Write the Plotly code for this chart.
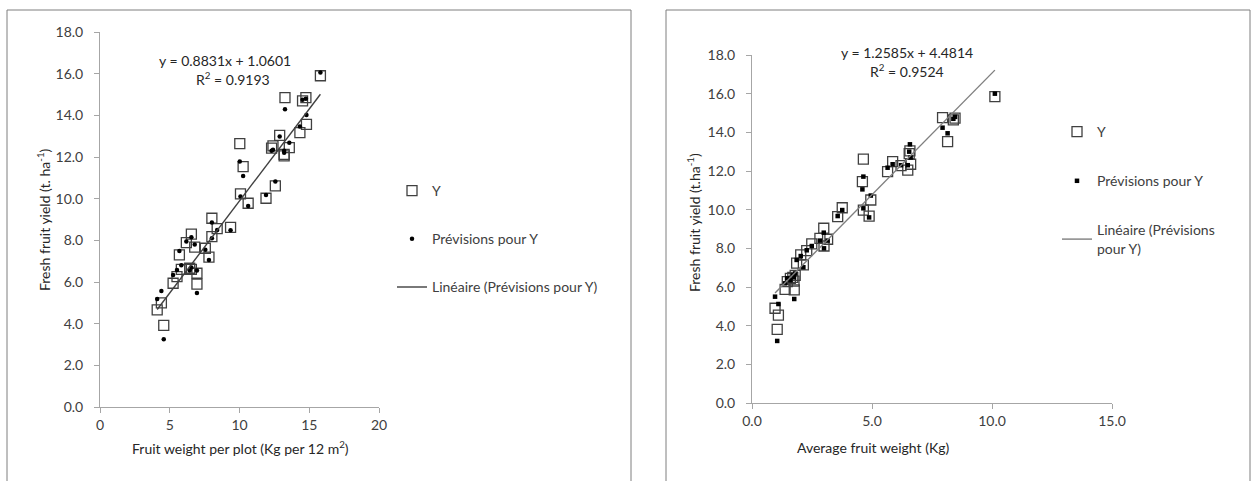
import plotly.graph_objects as go

# ---------------- data (left panel) ----------------
left_x = [4.1, 4.4, 4.57, 5.24, 5.52, 5.69, 5.83, 6.19, 6.43, 6.55, 6.55, 6.79, 6.95, 6.95,
          7.55, 7.81, 8.02, 8.02, 8.4, 9.36, 10.02, 10.07, 10.26, 10.62, 11.9, 12.4, 12.3,
          12.57, 12.88, 13.2, 13.2, 13.26, 13.57, 14.33, 14.52, 14.76, 14.8, 15.8]
left_y = [4.66, 5.0, 3.92, 5.94, 6.26, 7.3, 6.61, 7.89, 6.66, 6.61, 8.3, 7.67, 6.42, 5.9,
          7.62, 7.19, 8.18, 9.06, 8.56, 8.62, 12.64, 10.23, 11.54, 9.78, 10.02, 12.53, 12.43,
          10.61, 13.04, 12.13, 12.05, 14.85, 12.45, 13.17, 14.69, 14.85, 13.57, 15.9]
left_pred = [5.18, 5.57, 3.25, 6.34, 6.58, 7.49, 6.8, 7.95, 6.55, 6.7, 8.15, 7.8, 6.55, 5.47,
             7.55, 7.06, 8.1, 8.86, 8.5, 8.49, 11.78, 10.1, 11.09, 9.65, 10.18, 12.35, 12.3,
             10.82, 12.98, 12.3, 12.2, 14.29, 12.69, 13.46, 14.75, 14.8, 14.02, 16.06]
left_slope, left_intercept, left_r2 = 0.8831, 1.0601, 0.9193

# ---------------- data (right panel) ----------------
right_x = [0.96, 1.1, 1.05, 1.38, 1.47, 1.6, 1.7, 1.76, 1.8, 1.75, 1.86, 2.14, 2.03, 2.28,
           2.49, 2.83, 3.15, 3.0, 2.99, 3.57, 3.76, 4.64, 4.6, 4.64, 4.88, 4.95, 5.65, 5.86,
           6.21, 6.49, 6.58, 6.61, 6.55, 7.94, 8.15, 8.39, 8.46, 10.12]
right_y = [4.9, 4.55, 3.81, 5.88, 6.28, 6.45, 6.5, 5.85, 6.6, 6.3, 7.23, 7.14, 7.66, 7.88,
           8.23, 8.52, 8.47, 8.12, 9.04, 9.64, 10.1, 12.61, 11.45, 9.98, 9.67, 10.5, 11.97,
           12.49, 12.28, 12.05, 13.04, 12.35, 12.9, 14.76, 13.52, 14.64, 14.73, 15.85]
right_pred = [5.5, 5.12, 3.21, 6.19, 6.45, 6.35, 6.6, 5.38, 6.7, 6.5, 7.4, 7.02, 7.6, 7.9,
              8.12, 8.4, 8.4, 8.0, 8.81, 9.67, 9.98, 11.71, 11.05, 10.07, 9.6, 10.73, 12.17,
              12.35, 12.3, 12.3, 13.38, 12.7, 13.0, 14.24, 13.95, 14.7, 14.8, 16.0]
right_slope, right_intercept, right_r2 = 1.2585, 4.4814, 0.9524

y_ticks = [0, 2, 4, 6, 8, 10, 12, 14, 16, 18]
left_x_ticks = [0, 5, 10, 15, 20]
right_x_ticks = [0, 5, 10, 15]

name_y = "Y"
name_pred = "Prévisions pour Y"
name_lin_left = "Linéaire (Prévisions pour Y)"
name_lin_right = "Linéaire (Prévisions<br>pour Y)"

# ---------------- layout helpers ----------------
W, H = 1252, 481
def px(p):
    return p / W
def py(p):
    return 1 - p / H

FONT = "Lato, 'Open Sans', sans-serif"
AX_COL = "#A6A6A6"
TXT_COL = "#404040"
SQ_COL = "#404040"

fig = go.Figure()

def add_panel(xs, ys, preds, slope, intercept, xa, ya, legend, dot_symbol, lin_name, line_col):
    fig.add_trace(go.Scatter(
        x=xs, y=ys, mode="markers", name=name_y, xaxis=xa, yaxis=ya, legend=legend,
        legendgroup=legend + "a",
        marker=dict(symbol="square-open", size=10, color=SQ_COL, line=dict(width=1.3, color=SQ_COL))))
    fig.add_trace(go.Scatter(
        x=xs, y=preds, mode="markers", name=name_pred, xaxis=xa, yaxis=ya, legend=legend,
        legendgroup=legend + "b",
        marker=dict(symbol=dot_symbol, size=4.5, color="black")))
    x0, x1 = min(xs), max(xs)
    fig.add_trace(go.Scatter(
        x=[x0, x1], y=[slope * x0 + intercept, slope * x1 + intercept], mode="lines",
        name=lin_name, xaxis=xa, yaxis=ya, legend=legend, legendgroup=legend + "c",
        line=dict(color=line_col, width=1.4)))

add_panel(left_x, left_y, left_pred, left_slope, left_intercept, "x", "y", "legend",
          "circle", name_lin_left, "#404040")
add_panel(right_x, right_y, right_pred, right_slope, right_intercept, "x2", "y2", "legend2",
          "square", name_lin_right, "#7F7F7F")

axis_common = dict(showgrid=False, zeroline=False, showline=True, linecolor=AX_COL, linewidth=1,
                   ticks="outside", ticklen=5, tickcolor=AX_COL, automargin=False,
                   tickfont=dict(family=FONT, size=14, color=TXT_COL), fixedrange=True)

fig.update_layout(
    width=W, height=H, margin=dict(l=0, r=0, t=0, b=0, pad=0, autoexpand=False),
    paper_bgcolor="white", plot_bgcolor="white",
    font=dict(family=FONT, size=14, color=TXT_COL),
    xaxis=dict(domain=[px(100), px(379)], range=[0, 20], tickvals=left_x_ticks,
               tickformat="d", anchor="y", **axis_common),
    yaxis=dict(domain=[py(407), py(32)], range=[0, 18], tickvals=y_ticks,
               tickformat=".1f", anchor="x", ticklabelstandoff=8, **axis_common),
    xaxis2=dict(domain=[px(752), px(1112)], range=[0, 15], tickvals=right_x_ticks,
                tickformat=".1f", anchor="y2", **axis_common),
    yaxis2=dict(domain=[py(403), py(55)], range=[0, 18], tickvals=y_ticks,
                tickformat=".1f", anchor="x2", ticklabelstandoff=8, **axis_common),
    legend=dict(x=px(392), y=py(175), xanchor="left", yanchor="top", tracegroupgap=27,
                bgcolor="rgba(0,0,0,0)", font=dict(family=FONT, size=14, color=TXT_COL)),
    legend2=dict(x=px(1057), y=py(116), xanchor="left", yanchor="top", tracegroupgap=28,
                 bgcolor="rgba(0,0,0,0)", font=dict(family=FONT, size=14, color=TXT_COL)),
    showlegend=True,
)

# panel borders
fig.add_shape(type="rect", xref="paper", yref="paper", x0=px(7), x1=px(631), y0=py(490), y1=py(10),
              line=dict(color="#7F7F7F", width=1))
fig.add_shape(type="rect", xref="paper", yref="paper", x0=px(666), x1=px(1250), y0=py(490), y1=py(10),
              line=dict(color="#7F7F7F", width=1))

ann = [
    dict(x=px(225), y=py(60), text=f"y = {left_slope:.4f}x + {left_intercept:.4f}"),
    dict(x=px(233), y=py(78), text=f"R<sup>2</sup> = {left_r2:.4f}"),
    dict(x=px(907), y=py(52), text=f"y = {right_slope:.4f}x + {right_intercept:.4f}"),
    dict(x=px(907), y=py(70), text=f"R<sup>2</sup> = {right_r2:.4f}"),
    dict(x=px(240), y=py(447), text="Fruit weight per plot (Kg per 12 m<sup>2</sup>)"),
    dict(x=px(873), y=py(447), text="Average fruit weight (Kg)"),
    dict(x=px(43), y=py(220), text="Fresh fruit yield (t. ha<sup>-1</sup>)", textangle=-90),
    dict(x=px(693), y=py(222), text="Fresh fruit yield (t.ha<sup>-1</sup>)", textangle=-90),
]
for a in ann:
    fig.add_annotation(xref="paper", yref="paper", showarrow=False, xanchor="center",
                       yanchor="middle", font=dict(family=FONT, size=14, color="#262626"), **a)

fig.write_html("out.html")
